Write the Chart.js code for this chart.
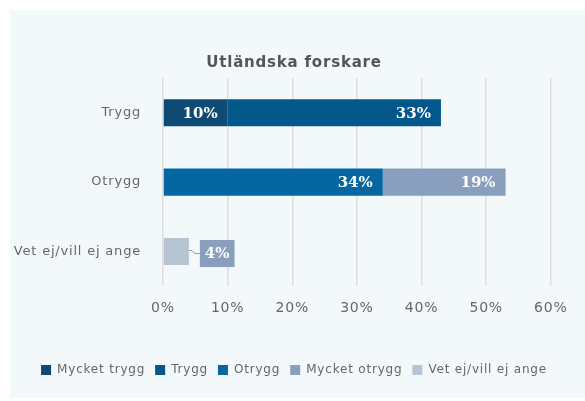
<!DOCTYPE html>
<html>
  <head>
    <meta charset="UTF-8">
    <title>Utländska forskare</title>
    <script src="https://cdn.jsdelivr.net/npm/chart.js"></script>
    <style>
      body { margin: 0; background: #fff; }
      #wrap { position: absolute; left: 10px; top: 10px; width: 575px; height: 388px; background: #f3f8fb; }
    </style>
  </head>
  <body>
    <div id="wrap"><canvas id="myChart"></canvas></div>

    <script>
      // data
      const categories = ['Trygg', 'Otrygg', 'Vet ej/vill ej ange'];
      const seriesNames = ['Mycket trygg', 'Trygg', 'Otrygg', 'Mycket otrygg', 'Vet ej/vill ej ange'];
      const mycketTrygg = [10, null, null];
      const trygg = [33, null, null];
      const otrygg = [null, 34, null];
      const mycketOtrygg = [null, 19, null];
      const vetEj = [null, null, 4];
      const xTicks = [0, 10, 20, 30, 40, 50, 60];

      const colors = ['#0f4a74', '#03588b', '#0566a1', '#8a9fbd', '#b7c4d4'];
      const values = [mycketTrygg, trygg, otrygg, mycketOtrygg, vetEj];
      const sansFont = '"DejaVu Sans"';

      // the original font is spaced out a little, canvas can do that
      const spacingPlugin = {
        id: 'spacing',
        beforeUpdate(chart) { chart.ctx.letterSpacing = '0.8px'; },
        beforeDraw(chart) { chart.ctx.letterSpacing = '0.8px'; }
      };

      // value labels, inside the bar end, or in a callout box for the small bar
      const labelPlugin = {
        id: 'valueLabels',
        afterDatasetsDraw(chart) {
          const ctx = chart.ctx;
          ctx.save();
          ctx.letterSpacing = '0px';
          ctx.font = 'bold 15px "DejaVu Serif"';
          ctx.textBaseline = 'middle';
          chart.data.datasets.forEach((ds, i) => {
            const meta = chart.getDatasetMeta(i);
            meta.data.forEach((bar, j) => {
              const v = ds.data[j];
              if (!v) return;
              const p = bar.getProps(['x', 'y', 'base', 'height'], true);
              const text = v + '%';
              if (ds.callout) {
                const w = ctx.measureText(text).width + 10;
                const h = p.height;
                const bx = p.x + 11;
                const by = p.y + 2 - h / 2;
                ctx.strokeStyle = '#999';
                ctx.lineWidth = 1;
                ctx.beginPath();
                ctx.moveTo(p.x, p.y - 1);
                ctx.lineTo(p.x + 3, p.y - 1);
                ctx.quadraticCurveTo(p.x + 5, p.y + 2, p.x + 7, p.y + 2);
                ctx.lineTo(bx, p.y + 2);
                ctx.stroke();
                ctx.fillStyle = '#8a9fbd';
                ctx.fillRect(bx, by, w, h);
                ctx.fillStyle = '#fff';
                ctx.textAlign = 'center';
                ctx.fillText(text, bx + w / 2, by + h / 2 + 1);
              } else {
                ctx.fillStyle = '#fff';
                ctx.textAlign = 'right';
                ctx.fillText(text, p.x - 10, p.y + 1);
              }
            });
          });
          ctx.restore();
        }
      };

      const ctx = document.getElementById('myChart').getContext('2d');
      new Chart(ctx, {
        type: 'bar',
        data: {
          labels: categories,
          datasets: seriesNames.map((name, i) => ({
            label: name,
            data: values[i],
            backgroundColor: colors[i],
            borderWidth: 0,
            barPercentage: 0.39,
            categoryPercentage: 1,
            callout: i === 4
          }))
        },
        options: {
          indexAxis: 'y',
          responsive: true,
          maintainAspectRatio: false,
          animation: false,
          layout: { padding: { left: 0, right: 7, top: 44, bottom: 12 } },
          scales: {
            x: {
              stacked: true,
              min: 0,
              max: 64.2, // a bit of room right of the 60% line
              afterBuildTicks(axis) { axis.ticks = xTicks.map(v => ({ value: v })); },
              afterFit(axis) { axis.height += 23; },
              grid: { color: '#dedede', lineWidth: 1.5, drawTicks: false },
              border: { display: false },
              ticks: {
                color: '#666',
                font: { family: sansFont, size: 14 },
                padding: 14,
                callback: v => v + '%'
              }
            },
            y: {
              stacked: true,
              afterFit(axis) { axis.width = 153; },
              grid: { display: false },
              border: { display: false },
              ticks: {
                color: '#666',
                font: { family: sansFont, size: 13 },
                padding: 14
              }
            }
          },
          plugins: {
            title: {
              display: true,
              text: 'Utländska forskare',
              color: '#555',
              font: { family: sansFont, size: 15, weight: 'bold' },
              padding: { top: 0, bottom: 6 }
            },
            legend: {
              position: 'bottom',
              labels: {
                color: '#666',
                font: { family: sansFont, size: 12 },
                boxWidth: 10,
                boxHeight: 10,
                padding: 10
              }
            },
            tooltip: { enabled: false }
          }
        },
        plugins: [spacingPlugin, labelPlugin]
      });
    </script>
  </body>
</html>
